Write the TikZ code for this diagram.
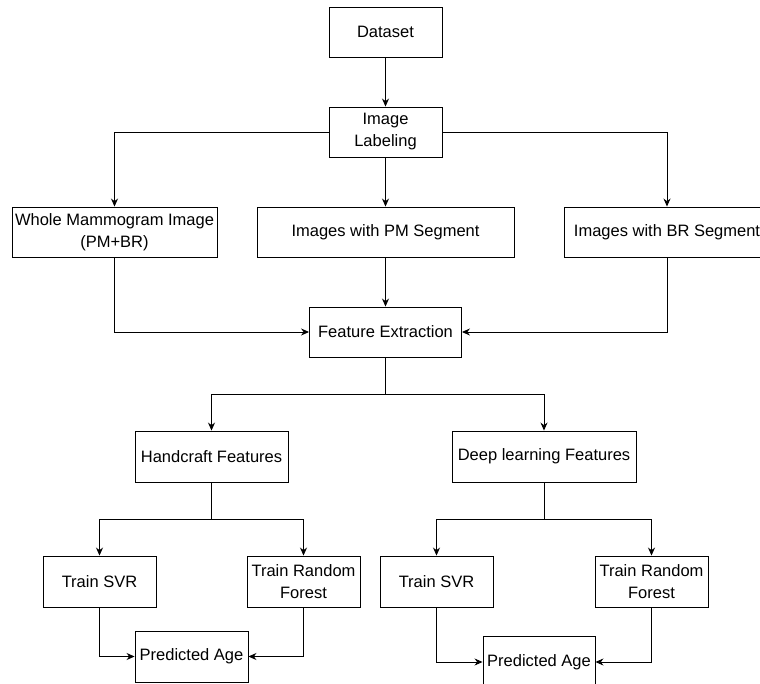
\documentclass[tikz,border=0pt]{standalone}
\usepackage{fontspec}
\setmainfont{Liberation Sans}
\usetikzlibrary{arrows.meta}
\begin{document}
\begin{tikzpicture}[x=1pt,y=-1pt,
  box/.style={draw, line width=0.9pt, rectangle, inner sep=1pt, align=center,
    font=\fontsize{16.5}{22}\selectfont, text=black},
  conn/.style={draw, line width=0.9pt, -{Stealth[length=8pt,width=7pt]}},
  plain/.style={draw, line width=0.9pt}]
\useasboundingbox (0,0) rectangle (760,684);
\clip (0,0) rectangle (760,684);
\fill[white] (0,0) rectangle (760,684);
\node[box, minimum width=113pt, minimum height=50pt] (ds) at (385.5,32) {Dataset};
\node[box, minimum width=113pt, minimum height=50pt] (il) at (385.5,132) {Image\\Labeling};
\node[box, minimum width=205pt, minimum height=50pt] (wm) at (114.5,232) {Whole Mammogram Image\\(PM+BR)};
\node[box, minimum width=257pt, minimum height=50pt] (pm) at (385.5,232) {Images with PM Segment};
\node[box, minimum width=206pt, minimum height=50pt] (br) at (667,232) {Images with BR Segment};
\node[box, minimum width=152pt, minimum height=50pt] (fe) at (385.5,332) {Feature Extraction};
\node[box, minimum width=153pt, minimum height=51pt] (hc) at (211.5,456.5) {Handcraft Features};
\node[box, minimum width=184pt, minimum height=51pt] (dl) at (544,456.5) {Deep learning Features};
\node[box, minimum width=113pt, minimum height=51pt] (svra) at (99.5,581.5) {Train SVR};
\node[box, minimum width=113pt, minimum height=51pt] (rfa) at (303.5,581.5) {Train Random\\Forest};
\node[box, minimum width=113pt, minimum height=51pt] (paa) at (191.5,656.5) {Predicted Age};
\node[box, minimum width=113pt, minimum height=51pt] (svrb) at (436.5,581.5) {Train SVR};
\node[box, minimum width=113pt, minimum height=51pt] (rfb) at (651.5,581.5) {Train Random\\Forest};
\node[box, minimum width=112pt, minimum height=51pt] (pab) at (539,662) {Predicted Age};
\coordinate (s1) at (385.5,394);
\coordinate (s2) at (211.5,519);
\coordinate (s3) at (544,519);
\draw[conn] (ds) -- (il);
\draw[conn] (il.west) -| (wm.north);
\draw[conn] (il.south) -- (pm.north);
\draw[conn] (il.east) -| (br.north);
\draw[conn] (wm.south) |- (fe.west);
\draw[conn] (pm.south) -- (fe.north);
\draw[conn] (br.south) |- (fe.east);
\draw[plain] (fe.south) -- (s1);
\draw[conn] (s1) -| (hc.north);
\draw[conn] (s1) -| (dl.north);
\draw[plain] (hc.south) -- (s2);
\draw[conn] (s2) -| (svra.north);
\draw[conn] (s2) -| (rfa.north);
\draw[conn] (svra.south) |- (paa.west);
\draw[conn] (rfa.south) |- (paa.east);
\draw[plain] (dl.south) -- (s3);
\draw[conn] (s3) -| (svrb.north);
\draw[conn] (s3) -| (rfb.north);
\draw[conn] (svrb.south) |- (pab.west);
\draw[conn] (rfb.south) |- (pab.east);
\end{tikzpicture}
\end{document}
